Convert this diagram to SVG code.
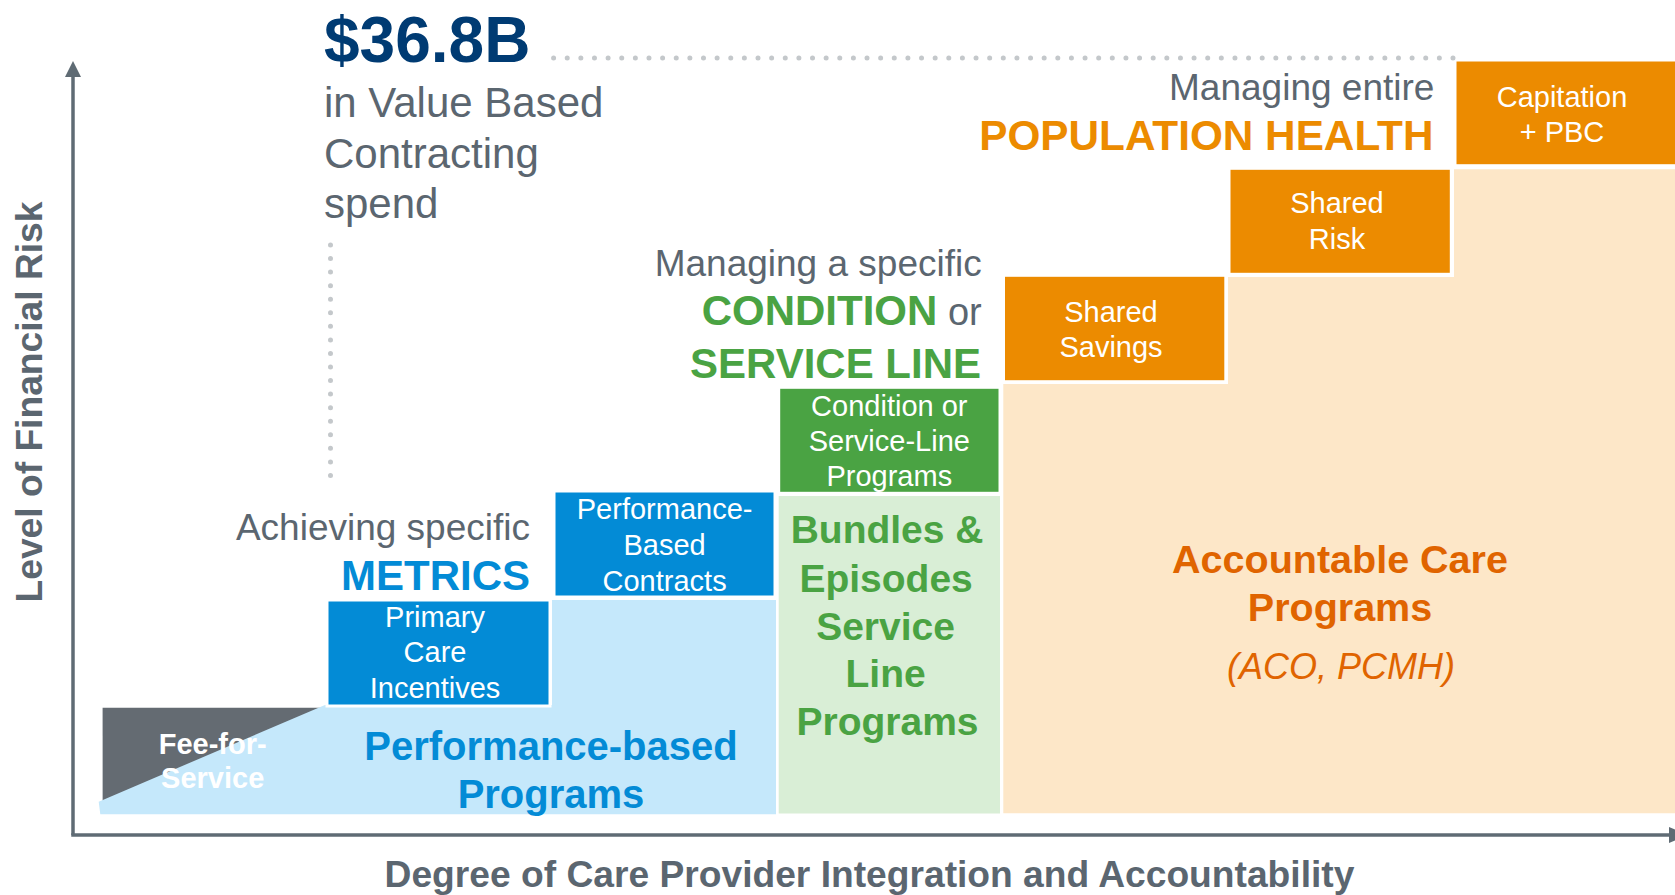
<svg xmlns="http://www.w3.org/2000/svg" width="1675" height="895" viewBox="0 0 1675 895">
  <defs>
    <style>
      text { font-family: "Liberation Sans", Arial, sans-serif; }
      .box-blue { fill: #038bd6; stroke: #ffffff; stroke-width: 3; }
      .box-green { fill: #4aa343; stroke: #ffffff; stroke-width: 3; }
      .box-orange { fill: #ec8b00; stroke: #ffffff; stroke-width: 3; }
      .box-label { fill: #ffffff; font-size: 29px; text-anchor: middle; }
      .note { fill: #5b6670; font-size: 37px; text-anchor: end; }
      .axis-label { fill: #5b6670; font-weight: bold; text-anchor: middle; }
      .axis { stroke: #5f6b74; stroke-width: 3.5; fill: none; }
      .dots { stroke: #c4c8cb; stroke-width: 5; stroke-linecap: round; fill: none; }
    </style>
  </defs>

  <rect width="1675" height="895" fill="#ffffff"/>

  <!-- background bands -->
  <g id="band-performance">
    <polygon points="102.6,707.7 322,707.7 102.6,801" fill="#646b72"/>
    <polygon points="98.7,801.7 325,705 552,705 552,600 776,600 776,814.3 100.3,814.3" fill="#c5e8fb"/>
    <text x="551" y="760" font-size="40" font-weight="bold" fill="#038bd6" text-anchor="middle">Performance-based</text>
    <text x="551" y="807.5" font-size="40" font-weight="bold" fill="#038bd6" text-anchor="middle">Programs</text>
  </g>

  <g id="fee-for-service">
    <text x="212.7" y="754" font-size="29" font-weight="bold" fill="#ffffff" text-anchor="middle">Fee-for-</text>
    <text x="212.7" y="788" font-size="29" font-weight="bold" fill="#ffffff" text-anchor="middle">Service</text>
  </g>

  <g id="band-bundles">
    <rect x="778.7" y="496" width="221.3" height="317.5" fill="#d9eed6"/>
    <text x="891" font-size="39" font-weight="bold" fill="#4aa343" text-anchor="middle">
      <tspan x="892.5" y="543.3">Bundles &amp;</tspan>
      <tspan x="891.5" y="591.7">Episodes</tspan>
      <tspan x="891" y="640">Service</tspan>
      <tspan x="891" y="687.3">Line</tspan>
      <tspan x="887.5" y="735">Programs</tspan>
    </text>
  </g>

  <g id="band-accountable">
    <polygon points="1003.3,384 1228,384 1228,277 1454,277 1454,169.3 1675,169.3 1675,813.3 1003.3,813.3" fill="#fde7c8"/>
    <text x="1340" y="572.7" font-size="39.5" font-weight="bold" fill="#e06400" text-anchor="middle">Accountable Care</text>
    <text x="1340" y="620.7" font-size="39.5" font-weight="bold" fill="#e06400" text-anchor="middle">Programs</text>
    <text x="1341" y="679" font-size="36" font-style="italic" fill="#e06400" text-anchor="middle">(ACO, PCMH)</text>
  </g>

  <!-- contract steps -->
  <g id="primary-care-incentives">
    <rect class="box-blue" x="327" y="600" width="223" height="106"/>
    <text class="box-label" x="435" y="626.7">Primary</text>
    <text class="box-label" x="435" y="662">Care</text>
    <text class="box-label" x="435" y="698">Incentives</text>
  </g>

  <g id="performance-based-contracts">
    <rect class="box-blue" x="554" y="491" width="221" height="106"/>
    <text class="box-label" x="664.6" y="519.3">Performance-</text>
    <text class="box-label" x="664.6" y="555">Based</text>
    <text class="box-label" x="664.6" y="590.7">Contracts</text>
  </g>

  <g id="condition-programs">
    <rect class="box-green" x="778.7" y="387.3" width="221.3" height="106"/>
    <text class="box-label" x="889.3" y="416">Condition or</text>
    <text class="box-label" x="889.3" y="450.7">Service-Line</text>
    <text class="box-label" x="889.3" y="486">Programs</text>
  </g>

  <g id="shared-savings">
    <rect class="box-orange" x="1003.5" y="275.3" width="222.3" height="106.4"/>
    <text class="box-label" x="1111" y="321.7">Shared</text>
    <text class="box-label" x="1111" y="356.7">Savings</text>
  </g>

  <g id="shared-risk">
    <rect class="box-orange" x="1229" y="168.3" width="222.3" height="106"/>
    <text class="box-label" x="1337" y="213.3">Shared</text>
    <text class="box-label" x="1337" y="249.3">Risk</text>
  </g>

  <g id="capitation">
    <rect class="box-orange" x="1455" y="60" width="225" height="105.7"/>
    <text class="box-label" x="1562" y="106.7">Capitation</text>
    <text class="box-label" x="1562" y="141.7">+ PBC</text>
  </g>

  <!-- annotations -->
  <g id="metrics-note">
    <text class="note" x="530" y="540">Achieving specific</text>
    <text x="530" y="590" font-size="42" font-weight="bold" fill="#038bd6" text-anchor="end">METRICS</text>
  </g>

  <g id="condition-note">
    <text class="note" x="981.7" y="276">Managing a specific</text>
    <text x="981.7" y="325" text-anchor="end"><tspan font-size="42" font-weight="bold" fill="#4aa343">CONDITION</tspan><tspan font-size="38" fill="#5b6670"> or</tspan></text>
    <text x="981" y="377.7" font-size="42" font-weight="bold" fill="#4aa343" text-anchor="end">SERVICE LINE</text>
  </g>

  <g id="population-note">
    <text class="note" x="1434.4" y="100">Managing entire</text>
    <text x="1433.5" y="150" font-size="42.3" font-weight="bold" fill="#ec8b00" text-anchor="end">POPULATION HEALTH</text>
  </g>

  <g id="spend-callout">
    <text x="324" y="61.7" font-size="64" font-weight="bold" fill="#003b73">$36.8B</text>
    <text x="324" y="117.3" font-size="42" fill="#5b6670">in Value Based</text>
    <text x="324" y="168.3" font-size="42" fill="#5b6670">Contracting</text>
    <text x="324" y="218.3" font-size="42" fill="#5b6670">spend</text>
  </g>

  <!-- axes and leader lines -->
  <g id="connectors">
    <line class="dots" x1="553.6" y1="58" x2="1453" y2="58" stroke-dasharray="0 13.627"/>
    <line class="dots" x1="330.5" y1="245" x2="330.5" y2="489" stroke-dasharray="0 13.556"/>
    <line class="axis" x1="73" y1="835" x2="73" y2="74"/>
    <polygon points="73,61 65,77 81,77" fill="#5f6b74"/>
    <line class="axis" x1="71.25" y1="835" x2="1672" y2="835"/>
    <polygon points="1688,835 1669,827 1669,843" fill="#5f6b74"/>
  </g>

  <g id="axis-titles">
    <text class="axis-label" transform="translate(42,402) rotate(-90)" font-size="37.2">Level of Financial Risk</text>
    <text class="axis-label" x="869.5" y="887" font-size="37.2">Degree of Care Provider Integration and Accountability</text>
  </g>
</svg>
